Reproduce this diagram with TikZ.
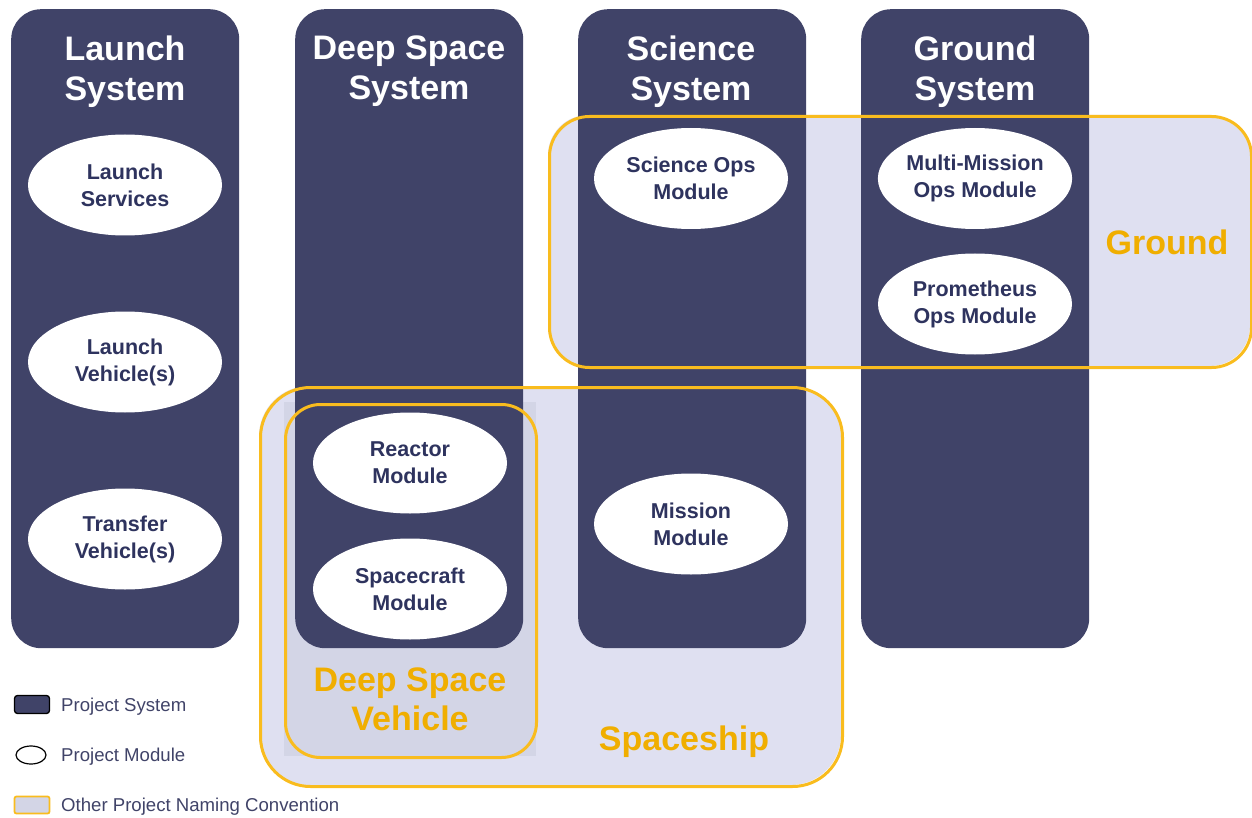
\documentclass[tikz,border=0pt]{standalone}
\usepackage{fontspec}
\setmainfont{Liberation Sans}
\usetikzlibrary{shapes.geometric}
\definecolor{sysc}{HTML}{404368}
\definecolor{lav}{HTML}{DFE0F1}
\definecolor{lavd}{HTML}{D3D5E6}
\definecolor{org}{HTML}{F9BC1E}
\definecolor{orgt}{HTML}{F0AE00}
\definecolor{modt}{HTML}{2E335E}
\tikzset{
  system/.style={fill=sysc, rounded corners=30pt, minimum width=228pt, minimum height=639pt, anchor=north west, inner sep=0pt},
  systitle/.style={text=white, font=\fontsize{34}{40}\selectfont\bfseries, align=center},
  module/.style={ellipse, fill=white, minimum width=194pt, minimum height=101pt, inner sep=0pt, text=modt, font=\fontsize{21.5}{27}\selectfont\bfseries, align=center},
  grpline/.style={draw=org, line width=3pt, inner sep=0pt, anchor=north west},
  grplabel/.style={text=orgt, font=\fontsize{34}{39}\selectfont\bfseries, align=center},
  legtext/.style={anchor=west, text=sysc, font=\fontsize{18.6}{22}\selectfont, inner sep=0pt}
}
\begin{document}
\begin{tikzpicture}[x=1pt,y=-1pt]
\useasboundingbox (0,0) rectangle (1252,818);
% group fills
\fill[lav, rounded corners=40pt] (548,115) rectangle (1250,366);
\fill[lav, rounded corners=50pt] (259,386) rectangle (841,785);
\fill[lavd] (284,402) rectangle (536,756);
% systems
\node[system] (lsys) at (11,9) {};
\node[system] (dsys) at (295,9) {};
\node[system] (ssys) at (578,9) {};
\node[system] (gsys) at (861,9) {};
\node[systitle] (lsysT) at (125,71.5) {Launch\\System};
\node[systitle] (dsysT) at (409,71.5) {Deep Space\\System};
\node[systitle] (ssysT) at (691,71.5) {Science\\System};
\node[systitle] (gsysT) at (975,71.5) {Ground\\System};
% modules
\node[module] (ls) at (125,185) {Launch\\Services};
\node[module] (lv) at (125,362) {Launch\\Vehicle(s)};
\node[module] (tv) at (125,539) {Transfer\\Vehicle(s)};
\node[module] (rm) at (410,463) {Reactor\\Module};
\node[module] (scm) at (410,589) {Spacecraft\\Module};
\node[module] (som) at (691,178.5) {Science Ops\\Module};
\node[module] (mm) at (691,524) {Mission\\Module};
\node[module] (mmo) at (975,178.5) {Multi-Mission\\Ops Module};
\node[module] (pom) at (975,304) {Prometheus\\Ops Module};
% group outlines
\node[grpline, rounded corners=40pt, minimum width=702pt, minimum height=251pt] (ground) at (548,115) {};
\node[grpline, rounded corners=50pt, minimum width=582pt, minimum height=399pt] (ship) at (259,386) {};
\node[grpline, rounded corners=35pt, minimum width=251pt, minimum height=353pt] (dsv) at (284,403) {};
\node[grplabel] (groundL) at (1167,242) {Ground};
\node[grplabel] (shipL) at (684,742) {Spaceship};
\node[grplabel] (dsvL) at (410,699) {Deep Space\\Vehicle};
% legend
\node[draw=black, fill=sysc, rounded corners=3pt, minimum width=35pt, minimum height=18pt, line width=1.3pt, inner sep=0pt] (legS) at (32,704.5) {};
\node[ellipse, draw=black, minimum width=30pt, minimum height=18pt, line width=1.2pt, inner sep=0pt] (legM) at (31,755) {};
\node[draw=org, fill=lavd, line width=1.8pt, rounded corners=2pt, minimum width=35pt, minimum height=17pt, inner sep=0pt] (legG) at (32,805) {};
\node[legtext] (legSt) at (61,706.5) {Project System};
\node[legtext] (legMt) at (61,756.5) {Project Module};
\node[legtext] (legGt) at (61,806.5) {Other Project Naming Convention};
\end{tikzpicture}
\end{document}
